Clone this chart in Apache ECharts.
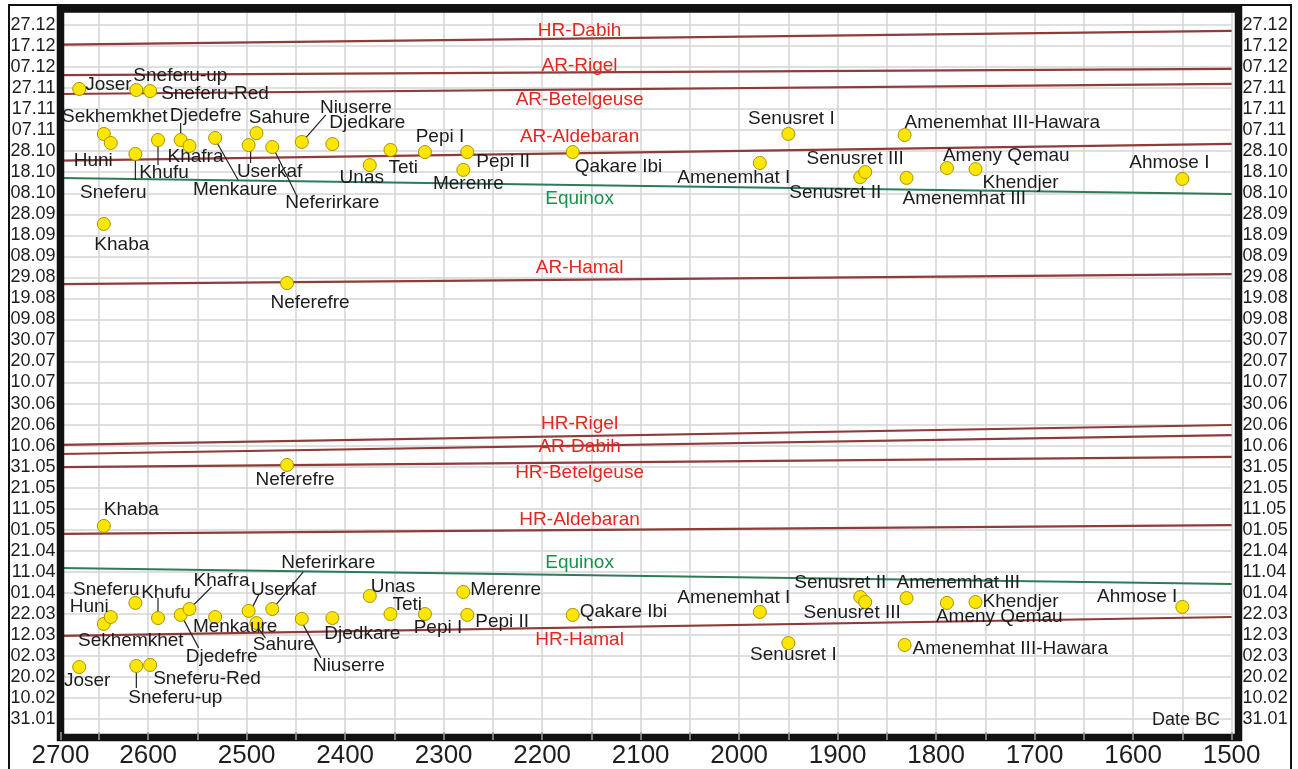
<!DOCTYPE html>
<html><head><meta charset="utf-8">
<script src="https://cdn.jsdelivr.net/npm/echarts@6/dist/echarts.min.js"></script>
<style>html,body{margin:0;padding:0;background:#fff}#chart{width:1298px;height:769px}</style>
</head><body><div id="chart"></div>
<script>
// ---------------- DATA ----------------
// Kings, approximate date BC used on the x axis, and the day of year (0 = 1 Jan) of the
// autumn (upper cluster) and spring (lower cluster) alignment.
const kings = ['Joser','Sekhemkhet','Khaba','Huni','Sneferu','Sneferu-up','Sneferu-Red','Khufu','Djedefre','Khafra','Menkaure','Userkaf','Sahure','Neferirkare','Neferefre','Niuserre','Djedkare','Unas','Teti','Pepi I','Merenre','Pepi II','Qakare Ibi','Amenemhat I','Senusret I','Senusret II','Senusret III','Amenemhat III','Amenemhat III-Hawara','Ameny Qemau','Khendjer','Ahmose I'];
const reignYearBC = [2670,2645,2645,2638,2613,2612,2598,2590,2567,2558,2532,2498,2490,2474,2459,2444,2413,2375,2354,2319,2280,2276,2169,1979,1950,1877,1872,1830,1832,1789,1760,1550];
const autumnDay = [329.6,308.2,265.4,303.9,298.7,329.1,328.6,305.3,305.3,302.5,306.3,302.9,308.6,302.0,237.3,304.4,303.4,293.4,300.6,299.6,291.1,299.6,299.6,294.4,308.2,287.7,290.1,287.3,307.7,292.0,291.5,286.8];
const springDay = [54.7,75.2,121.8,78.5,85.2,55.2,55.7,78.0,79.5,82.3,78.5,81.4,75.6,82.3,150.8,77.6,78.0,88.5,79.9,79.9,90.4,79.5,79.5,80.9,66.1,88.0,85.6,87.5,65.2,85.2,85.6,83.3];

// Star rising lines (AR / HR) and equinox lines: day of year at the two ends of the date range
const starLines = ['HR-Dabih','AR-Rigel','AR-Betelgeuse','AR-Aldebaran','Equinox','AR-Hamal','HR-Rigel','AR-Dabih','HR-Betelgeuse','HR-Aldebaran','Equinox','HR-Hamal'];
const lineStartYear = 2689, lineEndYear = 1500;
const lineDayStart = [350.7,336.2,327.2,295.5,287.3,236.8,160.3,156.0,149.8,118.0,101.8,69.5];
const lineDayEnd   = [357.2,339.1,332.0,303.5,279.6,241.5,169.8,165.0,154.6,122.2,94.2,78.5];
const lineLabelYear = 2162;
const lineLabelDay = [357.2,340.5,324.3,306.7,277.3,244.5,170.3,159.3,147.0,124.6,104.2,67.6];

// Axis extents / ticks
const X_MIN = 1500, X_MAX = 2689, X_STEP = 50;
const Y_MIN = 20, Y_MAX = 368, Y_STEP = 10, Y_FIRST = 30, Y_LAST = 360;

// ---------------- LAYOUT (label placement, px offsets from the dot) ----------------
const autumnLabel = {
 'Joser':['left',6,-4],'Sneferu-up':['left',-3,-14],'Sneferu-Red':['left',11,3],'Sekhemkhet':['center',11,-17],
 'Huni':['right',2,18],'Sneferu':['center',-22,39],'Khufu':['center',6,33],'Djedefre':['center',25,-24],
 'Khafra':['center',6,11],'Menkaure':['center',20,52],'Userkaf':['center',21,27],'Sahure':['center',23,-15],
 'Neferirkare':['center',60,56],'Niuserre':['center',54,-34],'Djedkare':['left',-3,-21],'Unas':['center',-8,13],
 'Teti':['left',-2,18],'Khaba':['center',18,21],'Neferefre':['center',23,20],'Pepi I':['center',15,-15],
 'Pepi II':['left',9,10],'Merenre':['center',5,14],'Qakare Ibi':['left',2,15],'Amenemhat I':['center',-26,15],
 'Senusret I':['center',3,-15],'Senusret III':['center',-10,-13],'Senusret II':['center',-25,16],
 'Amenemhat III-Hawara':['left',0,-12],'Amenemhat III':['left',-4,21],'Ameny Qemau':['left',-4,-12],
 'Khendjer':['left',7,14],'Ahmose I':['center',-13,-16]
};
const springLabel = {
 'Sneferu':['center',-29,-13],'Huni':['right',-2,-10],'Sekhemkhet':['center',27,17],'Khufu':['center',8,-25],
 'Djedefre':['center',41,42],'Khafra':['center',32,-28],'Menkaure':['center',20,10],'Userkaf':['center',35,-21],
 'Sahure':['center',27,22],'Neferirkare':['center',56,-46],'Niuserre':['center',47,47],'Djedkare':['center',30,16],
 'Joser':['center',8,14],'Sneferu-up':['center',39,32],'Sneferu-Red':['left',3,14],'Unas':['left',1,-9],
 'Teti':['left',2,-9],'Pepi I':['center',13,14],'Merenre':['left',7,-2],'Pepi II':['left',8,7],
 'Qakare Ibi':['left',7,-3],'Amenemhat I':['center',-26,-14],'Senusret I':['center',5,12],
 'Senusret II':['center',-20,-14],'Senusret III':['center',-13,11],'Amenemhat III':['left',-10,-15],
 'Ameny Qemau':['left',-11,14],'Khendjer':['left',7,0],'Amenemhat III-Hawara':['left',8,4],
 'Ahmose I':['right',-5,-10],'Khaba':['left',0,-16],'Neferefre':['center',8,15]
};
// connector lines [season, king, [x1,y1,x2,y2] px offsets from the dot]
const connectors = [
 ['autumn','Sneferu',[0,6,0,26]],['autumn','Khufu',[0,6,0,25]],['autumn','Djedefre',[0,-6,0,-17]],
 ['autumn','Menkaure',[2,5,23,42]],['autumn','Userkaf',[2,5,2,18]],['autumn','Neferirkare',[3,5,25,50]],
 ['autumn','Niuserre',[3,-3,24,-27]],
 ['spring','Khufu',[0,-5,0,-20]],['spring','Djedefre',[2,3,18,33]],['spring','Khafra',[2,-2,22,-22]],
 ['spring','Userkaf',[4,-4,10,-16]],['spring','Sahure',[1,4,9,15]],['spring','Neferirkare',[2,-2,31,-37]],
 ['spring','Niuserre',[0,3,19,39]],['spring','Sneferu-up',[0,4,0,22]]
];

// ---------------- CHART ----------------
const FONT = '"Liberation Sans", Arial, sans-serif';
const pad = n => (n < 10 ? '0' : '') + n;
function dayLabel(v) {
  if (v % 10 !== 0 || v < Y_FIRST || v > Y_LAST) return '';
  const d = new Date(Date.UTC(2001, 0, 1 + v));
  return pad(d.getUTCDate()) + '.' + pad(d.getUTCMonth() + 1);
}
function yearLabel(v) {
  if (v === X_MAX) return String(Math.round(v / 100) * 100);
  return v % 100 === 0 ? String(v) : '';
}

function pointData(days, layout) {
  return kings.map((k, i) => {
    const l = layout[k];
    return {
      name: k, value: [reignYearBC[i], days[i]],
      label: { align: l[0], offset: [l[1], l[2]] }
    };
  });
}
const dotStyle = { color: '#ffe600', borderColor: '#a89300', borderWidth: 1, opacity: 1 };
const dotLabel = { show: true, position: 'inside', verticalAlign: 'middle', formatter: '{b}',
  color: '#1c1c1c', fontSize: 19, fontFamily: FONT, opacity: 1 };

const series = [];
starLines.forEach((name, i) => {
  const isEq = name === 'Equinox';
  series.push({
    type: 'line', name: name, silent: true, symbol: 'none', z: 2,
    data: [[lineStartYear, lineDayStart[i]], [lineEndYear, lineDayEnd[i]]],
    lineStyle: isEq ? { color: '#2f7a57', width: 2, opacity: 1 } : { color: '#8e3b3b', width: 2.2, opacity: 1 }
  });
});
series.push({
  type: 'scatter', silent: true, symbolSize: 0, z: 5, itemStyle: { opacity: 1 },
  data: starLines.map((n, i) => ({ name: n, value: [lineLabelYear, lineLabelDay[i]],
    label: { color: n === 'Equinox' ? '#139447' : '#e3261e' } })),
  label: { show: true, position: 'inside', formatter: '{b}', fontSize: 19, fontFamily: FONT, opacity: 1 }
});
series.push({
  type: 'custom', silent: true, z: 3,
  data: connectors.map(c => {
    const i = kings.indexOf(c[1]);
    return [reignYearBC[i], (c[0] === 'autumn' ? autumnDay : springDay)[i]];
  }),
  renderItem: (params, api) => {
    const p = api.coord([api.value(0), api.value(1)]);
    const o = connectors[params.dataIndex][2];
    return { type: 'line', shape: { x1: p[0] + o[0], y1: p[1] + o[1], x2: p[0] + o[2], y2: p[1] + o[3] },
      style: { stroke: '#222', lineWidth: 1.2 } };
  }
});
series.push({ type: 'scatter', name: 'autumn', silent: true, z: 4, symbolSize: 13,
  itemStyle: dotStyle, label: dotLabel, data: pointData(autumnDay, autumnLabel) });
series.push({ type: 'scatter', name: 'spring', silent: true, z: 4, symbolSize: 13,
  itemStyle: dotStyle, label: dotLabel, data: pointData(springDay, springLabel) });

const yAxisBase = (pos, margin) => ({
  type: 'value', position: pos, min: Y_MIN, max: Y_MAX, interval: Y_STEP,
  axisLine: { show: false }, axisTick: { show: false },
  splitLine: { show: pos === 'left', lineStyle: { color: '#d4d4d4', width: 1.5 } },
  axisLabel: { formatter: dayLabel, margin: margin, color: '#1e1e1e', fontSize: 18, fontFamily: FONT,
    showMinLabel: true, showMaxLabel: true }
});

const chart = echarts.init(document.getElementById('chart'), null, { renderer: 'canvas' });
chart.setOption({
  animation: false,
  backgroundColor: '#fff',
  grid: { left: 60.5, right: 66.4, top: 8.2, bottom: 29, containLabel: false, show: false },
  xAxis: [{
    type: 'value', position: 'bottom', inverse: true, min: X_MIN, max: X_MAX, interval: X_STEP,
    axisLine: { show: false }, axisTick: { show: false },
    splitLine: { show: true, lineStyle: { color: '#d4d4d4', width: 1.5 } },
    axisLabel: { formatter: yearLabel, margin: 3, color: '#1e1e1e', fontSize: 26, fontFamily: FONT,
      showMinLabel: true, showMaxLabel: true }
  }, {
    type: 'value', position: 'bottom', inverse: true, min: X_MIN, max: X_MAX, interval: X_STEP, z: 120,
    axisLine: { show: false }, splitLine: { show: false }, axisLabel: { show: false },
    axisTick: { show: true, inside: true, length: 8,
      interval: (i, v) => Number(v) % X_STEP === 0 && Number(v) !== X_MIN,
      lineStyle: { color: '#9a9a9a', width: 1.5 } }
  }],
  yAxis: [yAxisBase('left', 5), yAxisBase('right', 11)],
  series: series,
  graphic: [
    { type: 'rect', z: 100, silent: true, shape: { x: 9, y: 5, width: 1282, height: 790 },
      style: { fill: 'none', stroke: '#111', lineWidth: 2 } },
    { type: 'rect', z: 100, silent: true, shape: { x: 60.5, y: 9, width: 1178, height: 728.5 },
      style: { fill: 'none', stroke: '#111', lineWidth: 7.5 } },
    { type: 'text', z: 101, silent: true, x: 1152, y: 720,
      style: { text: 'Date BC', fill: '#1e1e1e', font: '18px ' + FONT, align: 'left', verticalAlign: 'middle' } }
  ]
});
</script></body></html>
